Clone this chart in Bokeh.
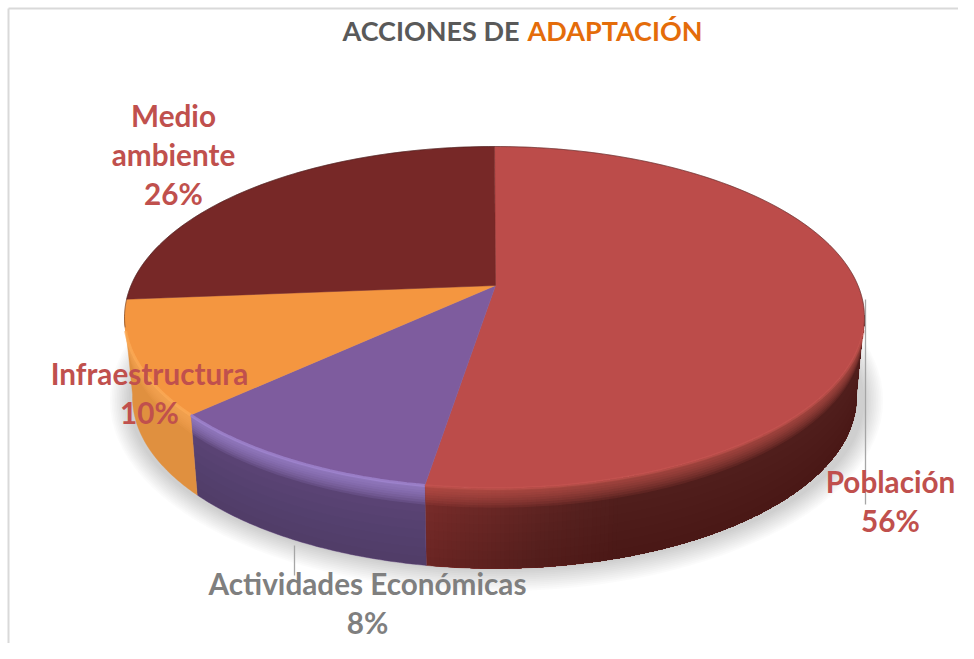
import math
from bokeh.plotting import figure
from bokeh.models import ColumnDataSource
from bokeh.core.properties import value
from bokeh.embed import file_html
from bokeh.resources import INLINE

# ---- data
categories = ["Población", "Actividades Económicas", "Infraestructura", "Medio\nambiente"]
percent_labels = ["56%", "8%", "10%", "26%"]
drawn_shares = [52.5, 10.5, 10.7, 26.3]   # slice sizes as actually drawn
top_colors = ["#BC4C4A", "#7E5C9E", "#F49640", "#772827"]
rim_colors = ["#CB5A55", "#A287D2", "#FBA955", "#7A2A28"]
side_colors = ["#7A2D2B", "#5E4578", "#E0903F", "#5A1F1E"]
label_colors = ["#C0504D", "#7F7F7F", "#C0504D", "#C0504D"]
title_parts = ["ACCIONES DE", "ADAPTACIÓN"]
title_colors = ["#595959", "#E46C0A"]

# ---- layout (picture pixels)
W, H = 958, 643
FONT = value("Lato")
TOP = dict(cx=494.0, cy=317.0, rx=370.0, ry=171.0)
BOT = dict(cx=494.0, cy=397.0, rx=362.0, ry=171.0)
K = 0.187  # perspective: moves the pie's apex towards the back

p = figure(width=W, height=H, x_range=(0, W), y_range=(H, 0), toolbar_location=None,
           output_backend="svg", min_border=0, outline_line_color=None,
           background_fill_color="white", border_fill_color="white")
p.axis.visible = False
p.grid.visible = False


def unit(theta):
    """clockwise from 12 o'clock, then perspective"""
    x, y = math.sin(theta), math.cos(theta)
    d = 1 + K * y
    return math.sqrt(1 - K * K) * x / d, (y + K) / d


def place(theta, e):
    X, Y = unit(theta)
    return e["cx"] + e["rx"] * X, e["cy"] - e["ry"] * Y


def mix(a, b, t):
    ca = [int(a[i:i + 2], 16) for i in (1, 3, 5)]
    cb = [int(b[i:i + 2], 16) for i in (1, 3, 5)]
    return "#%02x%02x%02x" % tuple(round(u + (v - u) * t) for u, v in zip(ca, cb))


def band(thetas, u0, u1):
    """piece of the outer wall between two depths (0 = top rim, 1 = bottom)"""
    up, lo = [], []
    for t in thetas:
        tx, ty = place(t, TOP)
        bx, by = place(t, BOT)
        up.append((tx + (bx - tx) * u0, ty + (by - ty) * u0))
        lo.append((tx + (bx - tx) * u1, ty + (by - ty) * u1))
    pts = up + lo[::-1]
    return [q[0] for q in pts], [q[1] for q in pts]


total = sum(drawn_shares)
edges = [0.0]
for s in drawn_shares:
    edges.append(edges[-1] + s / total * 2 * math.pi)

# soft shadow
for i in range(12):
    rx, ry = 368 + i * 1.7, 170 + i * 1.9
    n = 120
    p.patch([BOT["cx"] + 2 + rx * math.cos(j / n * 2 * math.pi) for j in range(n)],
            [BOT["cy"] + 3 + ry * math.sin(j / n * 2 * math.pi) for j in range(n)],
            fill_color="black", fill_alpha=0.015, line_color=None)

# outer wall: overlapping layers so that no seams appear
for idx in range(len(drawn_shares)):
    a, b = edges[idx], edges[idx + 1]
    n = max(6, int((b - a) / 0.01))
    thetas = [a + (b - a) * j / n for j in range(n + 1)]
    thetas = [t for t in thetas if unit(t)[1] < 0.02]
    if len(thetas) < 2:
        continue
    xs, ys = band(thetas, 0, 1)
    p.patch(xs, ys, fill_color=side_colors[idx], line_color=side_colors[idx], line_width=0.4)
    if idx == 0:  # red wall gets darker towards the right
        m = len(thetas)
        for j in range(m - 2, 0, -1):
            xm = place(thetas[j], TOP)[0]
            if xm > 620:
                break
            c = mix("#7A2D2B", "#52201E", min(1, max(0, (xm - 423) / 190)))
            xs, ys = band(thetas[:j + 1], 0, 1)
            p.patch(xs, ys, fill_color=c, line_color=None)
    if idx != 2:  # lower part a little darker
        for lv in range(1, 9):
            xs, ys = band(thetas, lv / 9, 1)
            p.patch(xs, ys, fill_color="black", fill_alpha=0.012, line_color=None)
    for lv in range(1, 9):  # lit top edge fading downwards
        xs, ys = band(thetas, 0, lv * 0.03)
        p.patch(xs, ys, fill_color=rim_colors[idx], fill_alpha=0.12 if idx == 0 else 0.16,
                line_color=None)

# top face
ax, ay = TOP["cx"] + 1, TOP["cy"] - TOP["ry"] * K
fx, fy = [], []
for idx in range(len(drawn_shares)):
    a, b = edges[idx], edges[idx + 1]
    n = max(6, int((b - a) / 0.02))
    pts = [place(a + (b - a) * j / n, TOP) for j in range(n + 1)]
    fx.append([ax] + [q[0] for q in pts])
    fy.append([ay] + [q[1] for q in pts])
p.patches(xs="x", ys="y", fill_color="c", line_color="c", line_width=0.5,
          source=ColumnDataSource(dict(x=fx, y=fy, c=top_colors)))

# lit rim and thin dark back edge
for idx in range(len(drawn_shares)):
    a, b = edges[idx], edges[idx + 1]
    n = max(6, int((b - a) / 0.02))
    pts = [place(a + (b - a) * j / n, TOP) for j in range(n + 1)]
    front = [q for q in pts if q[1] > TOP["cy"] + 10]
    back = [q for q in pts if q[1] <= TOP["cy"] + 10]
    if front:
        p.line([q[0] for q in front], [q[1] for q in front], line_color=rim_colors[idx],
               line_width=3, line_alpha=0.4 if idx == 0 else 0.75)
    if back:
        p.line([q[0] for q in back], [q[1] for q in back], line_color="#3A2020",
               line_width=0.9, line_alpha=0.5)

# frame
p.line([8, 8], [H, 8], line_color="#D9D9D9", line_width=2)
p.line([8, W], [8, 8], line_color="#D9D9D9", line_width=2)

# leader lines
p.line([865, 865], [299, 504], line_color="#A6A6A6", line_width=1.3)
p.line([294, 294], [545, 575], line_color="#A6A6A6", line_width=1.3)

# labels
label_pos = [(890, 481), (367, 583), (149, 373), (173, 115)]
LINE = 39
tx, ty, tt, tc = [], [], [], []
for (cx, cy), cat, pct, col in zip(label_pos, categories, percent_labels, label_colors):
    for k, s in enumerate(cat.split("\n") + [pct]):
        tx.append(cx); ty.append(cy + k * LINE); tt.append(s); tc.append(col)
p.text(x="x", y="y", text="t", text_color="c", text_font=FONT, text_font_style="bold",
       text_font_size="29.7px", text_align="center", text_baseline="middle",
       source=ColumnDataSource(dict(x=tx, y=ty, t=tt, c=tc)))

# title in two colours
p.text(x=[342], y=[30], text=[title_parts[0]], text_color=title_colors[0], text_font=FONT,
       text_font_style="bold", text_font_size="27px", text_baseline="middle")
p.text(x=[527], y=[30], text=[title_parts[1]], text_color=title_colors[1], text_font=FONT,
       text_font_style="bold", text_font_size="27px", text_baseline="middle")

open("out.html", "w").write(file_html(p, INLINE))
